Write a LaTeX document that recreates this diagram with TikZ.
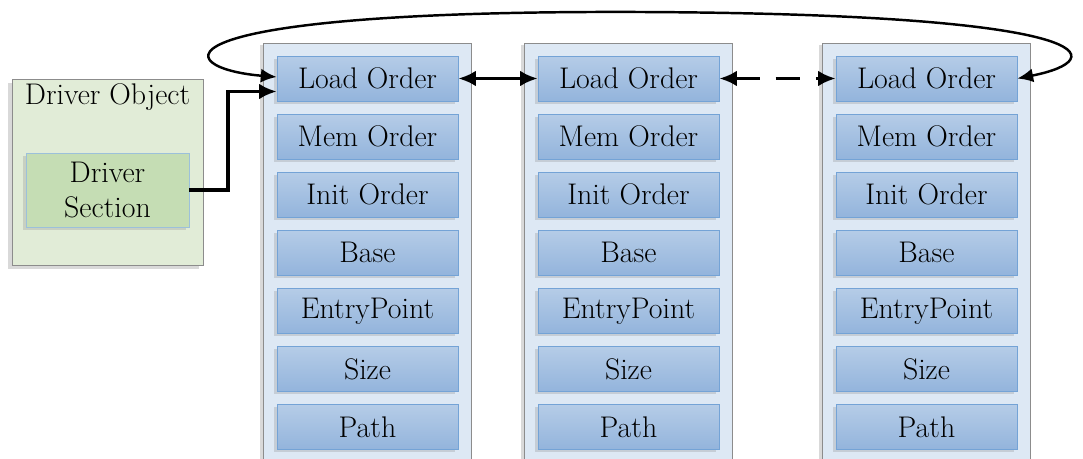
\documentclass[tikz,border=0pt]{standalone}
\usepackage{tikz}
\usetikzlibrary{arrows.meta,shadows}

\definecolor{fieldtop}{HTML}{B5CCE7}
\definecolor{fieldbot}{HTML}{93B4DC}
\definecolor{fieldedge}{HTML}{74A3D6}
\definecolor{colfill}{HTML}{DDE8F4}
\definecolor{drvfill}{HTML}{E1ECD7}
\definecolor{secfill}{HTML}{C5DDB4}
\definecolor{secedge}{HTML}{9CC0DA}

\tikzset{
  field/.style={draw=fieldedge, top color=fieldtop, bottom color=fieldbot,
    minimum width=3.62cm, minimum height=0.9cm, inner sep=0pt,
    drop shadow={opacity=0.25, shadow xshift=-1.5pt, shadow yshift=-1.5pt}},
  column/.style={draw=gray!90, fill=colfill,
    drop shadow={opacity=0.3, shadow xshift=-2pt, shadow yshift=-1pt}},
  drvobj/.style={draw=gray!90, fill=drvfill,
    drop shadow={opacity=0.3, shadow xshift=-2pt, shadow yshift=-2pt}},
  drvsec/.style={draw=secedge, fill=secfill, align=center,
    minimum width=3.26cm, minimum height=1.48cm, inner sep=0pt,
    drop shadow={opacity=0.25, shadow xshift=-1.5pt, shadow yshift=-1.5pt}},
  link/.style={line width=2.1pt, >={Latex[length=10pt,width=9pt]}, ->},
  loop/.style={line width=1.4pt, >={Latex[length=9pt,width=8pt]}, <->},
}

\begin{document}
\begin{tikzpicture}[x=0.02cm, y=-0.02cm, font=\fontsize{17}{19.5}\selectfont]
  \useasboundingbox (0,0) rectangle (1083,459);
  \clip (0,0) rectangle (1083,459);

  % the three module entries
  \foreach \i/\cx in {1/367.5, 2/628.5, 3/926.5} {
    \draw[column] (\cx-104,43) rectangle (\cx+104,475);
    \foreach \j/\txt in {1/Load Order, 2/Mem Order, 3/Init Order, 4/Base,
                         5/EntryPoint, 6/Size, 7/Path}
      \node[field] (c\i r\j) at (\cx, 78.5+58.1*\j-58.1) {\txt};
  }

  % driver object
  \draw[drvobj] (12,79) rectangle (203,265);
  \node (dobj) at (107.5,97) {Driver Object};
  \node[drvsec] (dsec) at (107.5,190) {Driver\\Section};

  % links
  \coordinate (in1) at ([yshift=-0.26cm]c1r1.west);
  \draw[link] (dsec.east) -- ++(39,0) |- (in1);
  \draw[link, <->] (c1r1.east) -- (c2r1.west);
  \draw[link, <->, dash pattern=on 14pt off 9pt] (c2r1.east) -- (c3r1.west);
  \draw[loop]
    (c3r1.east) .. controls (1112,60) and (1110,14) .. (640,12)
    .. controls (145,10) and (168,68) .. ([yshift=0.03cm]c1r1.west);
\end{tikzpicture}
\end{document}
